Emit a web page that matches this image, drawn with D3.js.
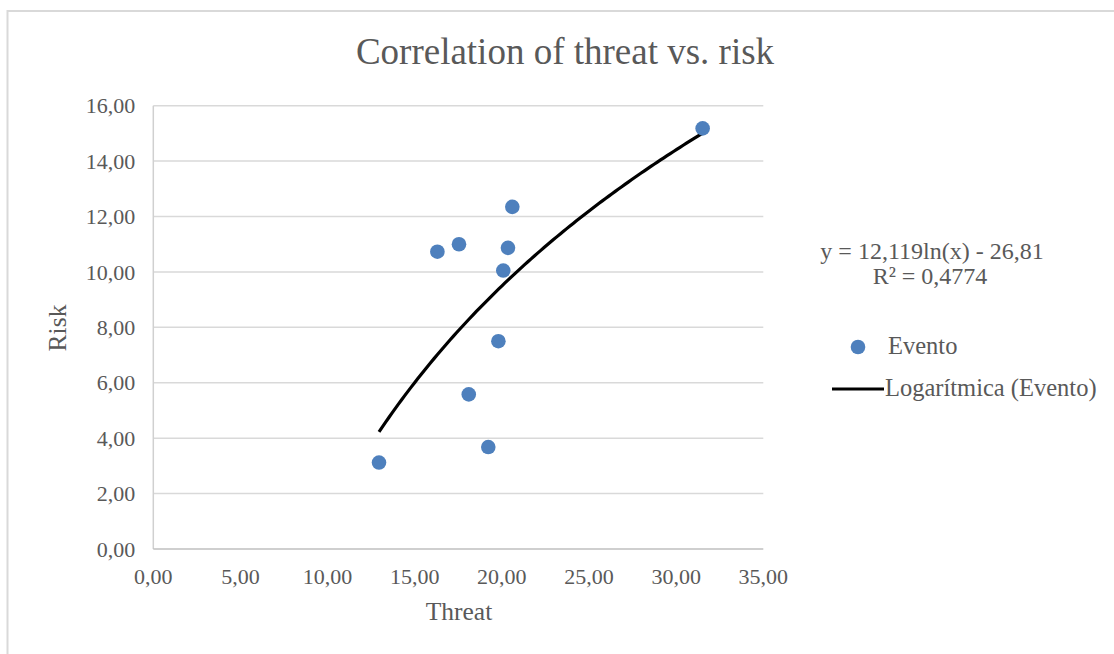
<!DOCTYPE html>
<html>
<head>
<meta charset="utf-8">
<script src="https://cdn.jsdelivr.net/npm/d3@7"></script>
<style>
  html, body { margin: 0; padding: 0; background: #fff; }
  svg { display: block; }
  text { font-family: "Liberation Serif", "Times New Roman", serif; fill: #595959; }
</style>
</head>
<body>
<svg id="chart" width="1114" height="654"></svg>
<script>
// Threat / risk pairs for each event
const threat = [12.95, 16.30, 17.54, 20.60, 20.35, 20.08, 19.80, 18.10, 19.22, 31.52];
const risk   = [3.12, 10.73, 11.00, 12.35, 10.87, 10.05, 7.50, 5.58, 3.68, 15.18];

// Logarithmic trendline coefficients: y = a ln(x) + b
const trendA = 12.119;
const trendB = -26.81;
const rSquared = "0,4774";

const xTicks = [0, 5, 10, 15, 20, 25, 30, 35];
const yTicks = [0, 2, 4, 6, 8, 10, 12, 14, 16];

const title = "Correlation of threat vs. risk";
const xTitle = "Threat";
const yTitle = "Risk";
const seriesName = "Evento";
const trendName = "Logarítmica (Evento)";

const W = 1114, H = 654;
const plot = { left: 153.3, right: 763.3, top: 105.7, bottom: 549 };
const dotColor = "#4e80bd";

const svg = d3.select("#chart");
const fmt = v => d3.format(".2f")(v).replace(".", ",");

// chart frame
svg.append("rect")
  .attr("x", 7.5).attr("y", 11).attr("width", W + 10).attr("height", H + 10)
  .attr("fill", "#fff").attr("stroke", "#d9d9d9").attr("stroke-width", 2);

const x = d3.scaleLinear().domain([0, 35]).range([plot.left, plot.right]);
const y = d3.scaleLinear().domain([0, 16]).range([plot.bottom, plot.top]);

// horizontal gridlines
svg.append("g")
  .selectAll("line").data(yTicks.filter(d => d > 0)).join("line")
  .attr("x1", plot.left).attr("x2", plot.right)
  .attr("y1", d => y(d)).attr("y2", d => y(d))
  .attr("stroke", "#d9d9d9").attr("stroke-width", 1.5);

// y axis line
svg.append("line")
  .attr("x1", plot.left).attr("x2", plot.left)
  .attr("y1", plot.top).attr("y2", plot.bottom)
  .attr("stroke", "#d0d0d0").attr("stroke-width", 1.5);

// x axis line
svg.append("line")
  .attr("x1", plot.left).attr("x2", plot.right)
  .attr("y1", plot.bottom).attr("y2", plot.bottom)
  .attr("stroke", "#bfbfbf").attr("stroke-width", 1.5);

// y tick labels
svg.append("g")
  .selectAll("text").data(yTicks).join("text")
  .attr("x", plot.left - 18).attr("y", d => y(d))
  .attr("dy", "0.35em")
  .attr("text-anchor", "end")
  .attr("font-size", 22)
  .text(fmt);

// x tick labels
svg.append("g")
  .selectAll("text").data(xTicks).join("text")
  .attr("x", d => x(d)).attr("y", plot.bottom + 35)
  .attr("text-anchor", "middle")
  .attr("font-size", 22)
  .text(fmt);

// titles
svg.append("text")
  .attr("x", 565).attr("y", 64)
  .attr("text-anchor", "middle")
  .attr("font-size", 37)
  .text(title);

svg.append("text")
  .attr("x", 459).attr("y", 620)
  .attr("text-anchor", "middle")
  .attr("font-size", 25.5)
  .text(xTitle);

svg.append("text")
  .attr("transform", `translate(66,328) rotate(-90)`)
  .attr("text-anchor", "middle")
  .attr("font-size", 25.5)
  .text(yTitle);

// logarithmic trendline across the data range
const [xMin, xMax] = d3.extent(threat);
const trendPts = d3.range(0, 101).map(i => {
  const xv = xMin + (xMax - xMin) * i / 100;
  return [xv, trendA * Math.log(xv) + trendB];
});
svg.append("path")
  .datum(trendPts)
  .attr("fill", "none")
  .attr("stroke", "#000")
  .attr("stroke-width", 3.2)
  .attr("d", d3.line().x(d => x(d[0])).y(d => y(d[1])));

// event markers
svg.append("g")
  .selectAll("circle").data(threat.map((t, i) => [t, risk[i]])).join("circle")
  .attr("cx", d => x(d[0])).attr("cy", d => y(d[1]))
  .attr("r", 7.3)
  .attr("fill", dotColor);

// trendline equation
const eq = svg.append("g").attr("font-size", 24);
eq.append("text").attr("x", 932).attr("y", 259).attr("text-anchor", "middle")
  .text(`y = ${String(trendA).replace(".", ",")}ln(x) - ${String(-trendB).replace(".", ",")}`);
eq.append("text").attr("x", 930).attr("y", 284).attr("text-anchor", "middle")
  .text(`R² = ${rSquared}`);

// legend
const lg = svg.append("g").attr("font-size", 24.5);
lg.append("circle").attr("cx", 858).attr("cy", 347).attr("r", 7.3).attr("fill", dotColor);
lg.append("text").attr("x", 888).attr("y", 354).text(seriesName);
lg.append("line").attr("x1", 832).attr("x2", 884).attr("y1", 389).attr("y2", 389)
  .attr("stroke", "#000").attr("stroke-width", 3.2);
lg.append("text").attr("x", 885).attr("y", 396).text(trendName);
</script>
</body>
</html>
